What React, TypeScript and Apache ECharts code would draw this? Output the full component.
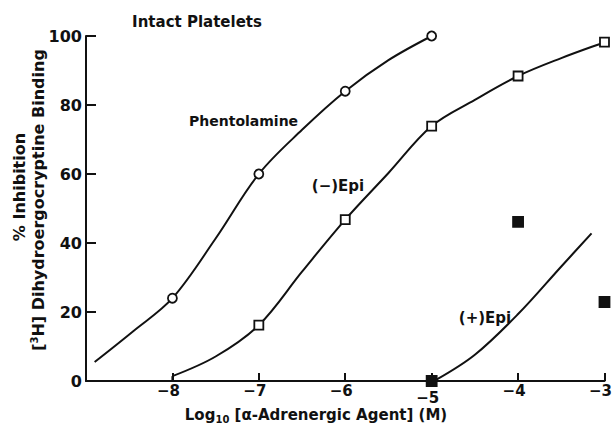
import React, { useEffect, useRef } from "react";
import * as echarts from "echarts";

// Tick values
const xTickValues = [-8, -7, -6, -5, -4, -3];
const yTickValues = [0, 20, 40, 60, 80, 100];

// Measured points (log10 M, % inhibition)
const phentolaminePts = [[-8, 24], [-7, 60], [-6, 84], [-5, 100]];
const epiMinusPts = [[-7, 16.2], [-6, 46.8], [-5, 73.9], [-4, 88.4], [-3, 98.2]];
const epiPlusPts = [[-5, 0], [-4, 46.1], [-3, 22.9]];

// Hand-drawn fitted curves
const phentolamineCurve = [
  [-8.9, 5.5], [-8.45, 14.5], [-8, 24], [-7.5, 41.3], [-7, 60], [-6.5, 72.8],
  [-6, 84], [-5.5, 93], [-5, 100],
];
const epiMinusCurve = [
  [-8, 1.4], [-7.5, 7.1], [-7, 16.2], [-6.5, 31.7], [-6, 46.8], [-5.5, 60.3],
  [-5, 73.9], [-4.5, 81.5], [-4, 88.4], [-3.5, 93.6], [-3, 98.2], [-2.9, 99.1],
];
const epiMinusStub = [[-8, 0], [-8, 1.4]];
const epiPlusCurve = [[-4.95, 0.3], [-4.5, 7.6], [-4, 19.4], [-3.5, 33.2], [-3.15, 42.8]];

const INK = "#111";
const FONT = "DejaVu Sans";

export default function App() {
  const ref = useRef<HTMLDivElement>(null);
  useEffect(() => {
    if (!ref.current) return;
    const chart = echarts.init(ref.current, null, { renderer: "svg" });
    const curve = (data: number[][]) => ({
      type: "line",
      data,
      smooth: 0.35,
      showSymbol: false,
      clip: false,
      silent: true,
      lineStyle: { color: INK, width: 2 },
      z: 2,
    });
    const marks = (data: number[][], symbol: string, size: number, fill: string) => ({
      type: "scatter",
      data,
      symbol,
      symbolSize: size,
      clip: false,
      silent: true,
      itemStyle: { color: fill, borderColor: INK, borderWidth: 1.8, opacity: 1 },
      z: 5,
    });
    chart.setOption({
      animation: false,
      backgroundColor: "#fff",
      grid: { left: 86, right: 10, top: 36, bottom: 45 },
      xAxis: {
        type: "value",
        min: -9,
        max: -3,
        interval: 1,
        axisLine: { show: true, onZero: false, lineStyle: { color: INK, width: 2 } },
        axisTick: { show: true, inside: true, length: 8, lineStyle: { color: INK, width: 2 } },
        splitLine: { show: false },
        axisLabel: {
          margin: 2,
          formatter: (v: number) => {
            if (!xTickValues.includes(v)) return "";
            const s = "\u2212" + Math.abs(v);
            return v === -5 ? `{low|${s}}` : `{n|${s}}`;
          },
          rich: {
            n: { fontFamily: FONT, fontSize: 15, fontWeight: "bold", color: INK, padding: [0, 8, 0, 0] },
            low: { fontFamily: FONT, fontSize: 15, fontWeight: "bold", color: INK, padding: [7, 8, 0, 0] },
          },
        },
      },
      yAxis: {
        type: "value",
        min: 0,
        max: 100,
        interval: 20,
        axisLine: { show: true, onZero: false, lineStyle: { color: INK, width: 2 } },
        axisTick: { show: true, inside: true, length: 10, lineStyle: { color: INK, width: 2 } },
        splitLine: { show: false },
        axisLabel: {
          margin: 4,
          fontFamily: FONT,
          fontSize: 16,
          fontWeight: "bold",
          color: INK,
          formatter: (v: number) => (yTickValues.includes(v) ? String(v) : ""),
        },
      },
      series: [
        curve(phentolamineCurve),
        curve(epiMinusCurve),
        curve(epiMinusStub),
        curve(epiPlusCurve),
        marks(phentolaminePts, "circle", 9, "#fff"),
        marks(epiMinusPts, "rect", 9, "#fff"),
        marks(epiPlusPts, "rect", 10, INK),
      ],
      graphic: [
        {
          type: "text",
          x: 197, y: 22,
          style: { text: "Intact Platelets", font: `bold 15px "${FONT}"`, fill: INK, textAlign: "center", textVerticalAlign: "middle" },
        },
        {
          type: "text",
          x: 189, y: 121,
          style: { text: "Phentolamine", font: `bold 14px "${FONT}"`, fill: INK, textAlign: "left", textVerticalAlign: "middle" },
        },
        {
          type: "text",
          x: 338, y: 186,
          style: { text: "(\u2212)Epi", font: `bold 15px "${FONT}"`, fill: INK, textAlign: "center", textVerticalAlign: "middle" },
        },
        {
          type: "text",
          x: 485, y: 318,
          style: { text: "(+)Epi", font: `bold 15px "${FONT}"`, fill: INK, textAlign: "center", textVerticalAlign: "middle" },
        },
        {
          type: "text",
          x: 316, y: 415,
          style: {
            text: "Log{sub|10} [\u03b1-Adrenergic Agent] (M)",
            font: `bold 15px "${FONT}"`,
            fill: INK,
            textAlign: "center",
            textVerticalAlign: "middle",
            rich: {
              sub: { fontFamily: FONT, fontSize: 10, fontWeight: "bold", fill: INK, padding: [8, 0, 0, 0] },
            },
          },
        },
        {
          type: "text",
          x: 19, y: 187,
          rotation: Math.PI / 2,
          style: { text: "% Inhibition", font: `bold 16px "${FONT}"`, fill: INK, textAlign: "center", textVerticalAlign: "middle" },
        },
        {
          type: "text",
          x: 38, y: 200,
          rotation: Math.PI / 2,
          style: {
            text: "[{sup|3}H] Dihydroergocryptine Binding",
            font: `bold 16px "${FONT}"`,
            fill: INK,
            textAlign: "center",
            textVerticalAlign: "middle",
            rich: {
              sup: { fontFamily: FONT, fontSize: 10, fontWeight: "bold", fill: INK, padding: [0, 0, 8, 0] },
            },
          },
        },
      ],
    });
    return () => chart.dispose();
  }, []);
  return (
    <div
      ref={ref}
      style={{ position: "fixed", left: 0, top: 0, width: 615, height: 426 }}
    />
  );
}
